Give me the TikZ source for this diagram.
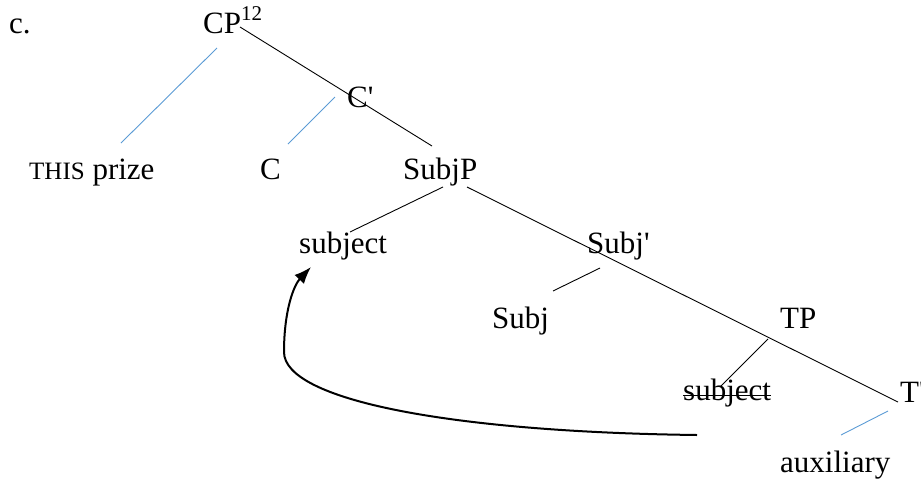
\documentclass[tikz,border=0pt]{standalone}
\usepackage{fontspec}
\usetikzlibrary{arrows.meta,calc}
\newfontfamily\treefont{Liberation Serif}
\definecolor{wordblue}{HTML}{5B9BD5}
\tikzset{
  lbl/.style         = {font=\treefont\fontsize{31}{36}\selectfont, inner sep=0pt, anchor=base west},
  branch/.style      = {line width=0.9pt},
  blue branch/.style = {line width=0.9pt, draw=wordblue},
  move/.style        = {-{Latex[length=17pt, width=13pt]}, line width=2pt},
}

\begin{document}
\begin{tikzpicture}[x=1pt,y=-1pt]
  \useasboundingbox (0,0) rectangle (921,480);
  % tree labels, placed at their baselines
  \node[lbl] (ex) at (9,33) {c.};
  \node[lbl] (cp) at (203,33) {CP\raisebox{13pt}{\fontsize{21}{21}\selectfont 12}};
  \node[lbl] (cbar) at (347,107) {C'};
  \node[lbl] (this) at (29,179) {{\fontsize{25}{28}\selectfont THIS} prize};
  \node[lbl] (c) at (260,179) {C};
  \node[lbl] (subjp) at (403,179) {SubjP};
  \node[lbl] (subj1) at (299,253) {subject};
  \node[lbl] (subjbar) at (587,253) {Subj'};
  \node[lbl] (subj) at (492,328) {Subj};
  \node[lbl] (tp) at (780,328) {TP};
  \node[lbl] (subjt) at (683,400) {subject};
  \node[lbl] (tbar) at (900,402) {T'};
  \node[lbl] (aux) at (780,472) {auxiliary};
  % struck-out copy
  \draw[branch] ($(subjt.base west)+(0,-5)$) -- ($(subjt.base east)+(0,-5)$);
  % branches
  \draw[branch] ($(cp.base west)+(37,-6)$) -- ($(subjp.base west)+(29,-33)$);
  \draw[blue branch] ($(cp.base west)+(14,15)$) -- ($(this.base west)+(92,-36)$);
  \draw[blue branch] ($(cbar.base west)+(-12,-10)$) -- ($(c.base west)+(28,-35)$);
  \draw[branch] ($(subjp.base west)+(40,8)$) -- ($(subj1.base west)+(51,-21)$);
  \draw[branch] ($(subjp.base west)+(64,8)$) -- ($(tbar.base west)+(-2,0)$);
  \draw[branch] ($(subjbar.base west)+(13,15)$) -- ($(subj.base west)+(61,-37)$);
  \draw[branch] ($(tp.base west)+(-12,11)$) -- ($(subjt.base west)+(37,-13)$);
  \draw[blue branch] ($(tbar.base west)+(-12,9)$) -- ($(aux.base west)+(61,-37)$);
  % movement of the subject
  \coordinate (bend) at ($(subj1.base west)+(-15,99)$);
  \draw[move] ($(subjt.base west)+(14,35)$) .. controls +(-247,-3) and +(0,48) .. (bend)
    .. controls +(0,-42) and +(-17,18) .. ($(subj1.base west)+(12,14)$);
\end{tikzpicture}
\end{document}
